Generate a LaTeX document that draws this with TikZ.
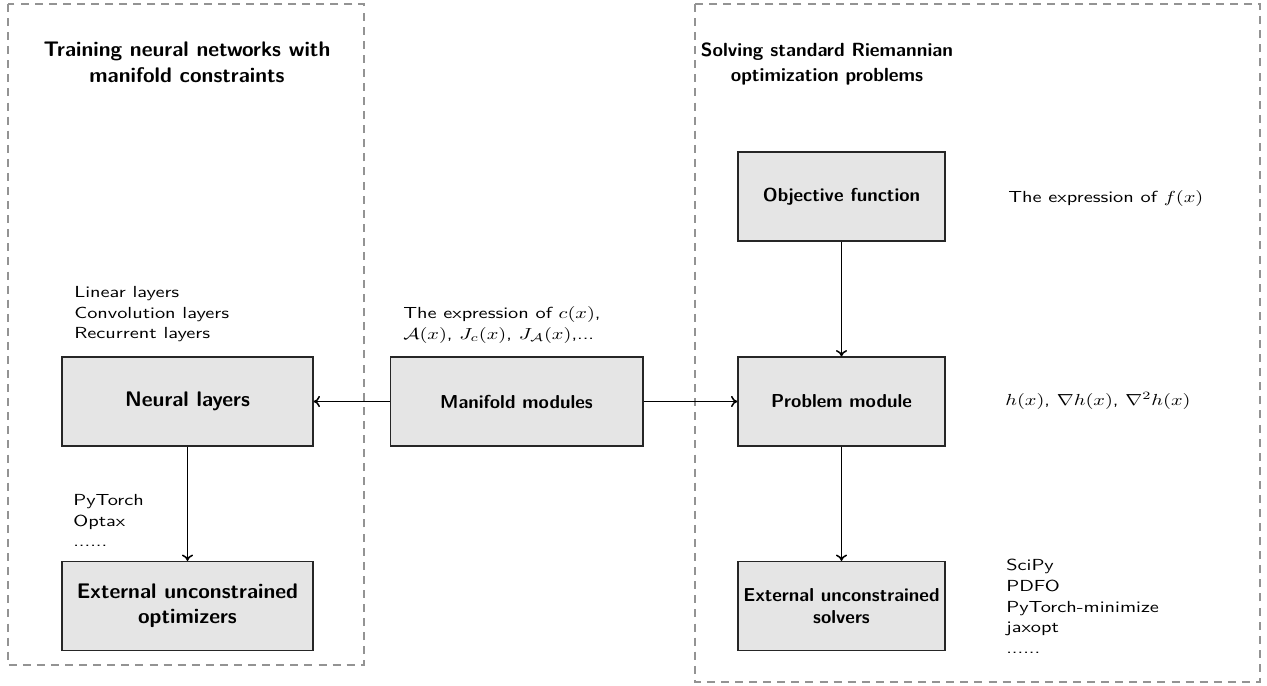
\documentclass[tikz,border=0pt]{standalone}
\usepackage{graphicx}
\usetikzlibrary{arrows.meta}
\newcommand\widetext[1]{\scalebox{1.27}[1]{\begin{tabular}{@{}l@{}}#1\end{tabular}}}
\newcommand\bigbf{\sffamily\bfseries\fontsize{13.2}{15.5}\selectfont}
\newcommand\midbf{\sffamily\bfseries\fontsize{11.7}{14}\selectfont}
\begin{document}
\begin{tikzpicture}[x=0.625pt,y=-0.625pt,
  box/.style={draw=black!85, line width=0.75pt, fill=gray!20, align=center, font=\bigbf, inner sep=0pt},
  sbox/.style={box, font=\midbf, minimum width=129.4pt, minimum height=55.6pt},
  wbox/.style={box, minimum width=156.9pt, minimum height=55.6pt},
  group/.style={draw=gray!85, dashed, dash pattern=on 5pt off 3.8pt, line width=1pt},
  title/.style={align=center, font=\sffamily\bfseries\fontsize{13.2}{16}\selectfont, inner sep=0pt},
  lbl/.style={font=\sffamily\fontsize{10}{13}\selectfont, anchor=west, inner sep=0pt},
  arr/.style={-{To[length=4pt,width=7pt]}, line width=0.95pt}]
\useasboundingbox (0,0) rectangle (1267,685);
% groups
\draw[group] (8,4) rectangle (364,665);
\draw[group] (695,4) rectangle (1260,682);
% titles
\node[title] (tl) at (187,62) {Training neural networks with\\manifold constraints};
\node[title, font=\sffamily\bfseries\fontsize{11.9}{16}\selectfont] (tr) at (827,64) {Solving standard Riemannian\\optimization problems};
% boxes
\node[sbox] (obj) at (841.5,196.5) {Objective function};
\node[sbox] (prob) at (841.5,401.5) {Problem module};
\node[sbox] (sol) at (841.5,606) {External unconstrained\\solvers};
\node[wbox] (neur) at (187.5,401.5) {Neural layers};
\node[wbox] (opt) at (187.5,606) {External unconstrained\\optimizers};
\node[wbox, font=\midbf, minimum width=158pt] (man) at (516.5,401.5) {Manifold modules};
% labels
\node[lbl] (llay) at (74,314) {\widetext{Linear layers\\Convolution layers\\Recurrent layers}};
\node[lbl] (lpy) at (73,522) {\widetext{PyTorch\\Optax\\......}};
\node[lbl] (lman) at (403,325) {\widetext{The expression of $c(x)$,\\$\mathcal{A}(x)$, $J_c(x)$, $J_{\mathcal{A}}(x)$,...}};
\node[lbl] (lf) at (1008,198.5) {\widetext{The expression of $f(x)$}};
\node[lbl] (lh) at (1005,401) {\widetext{$h(x)$, $\nabla h(x)$, $\nabla^2 h(x)$}};
\node[lbl] (lsci) at (1006,608) {\widetext{SciPy\\PDFO\\PyTorch-minimize\\jaxopt\\......}};
% arrows
\draw[arr] (man) -- (neur);
\draw[arr] (man) -- (prob);
\draw[arr] (obj) -- (prob);
\draw[arr] (prob) -- (sol);
\draw[arr] (neur) -- (opt);
\end{tikzpicture}
\end{document}
